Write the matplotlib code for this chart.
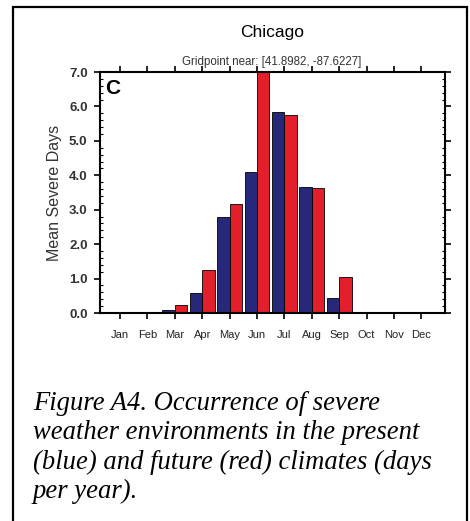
import numpy as np
import matplotlib.pyplot as plt
from matplotlib.patches import Rectangle
from matplotlib.ticker import MultipleLocator

# Data
months = ['Jan', 'Feb', 'Mar', 'Apr', 'May', 'Jun', 'Jul', 'Aug', 'Sep', 'Oct', 'Nov', 'Dec']
present = [0.0, 0.0, 0.08, 0.57, 2.78, 4.1, 5.85, 3.67, 0.45, 0.0, 0.0, 0.0]
future = [0.0, 0.0, 0.22, 1.25, 3.18, 7.0, 5.74, 3.64, 1.04, 0.0, 0.0, 0.0]
yticks = [0, 1, 2, 3, 4, 5, 6, 7]

plt.rcParams['font.family'] = ['Liberation Sans', 'DejaVu Sans']

fig = plt.figure(figsize=(4.7, 5.21), dpi=100)

# Outer frame around panel + caption
fig.patches.append(Rectangle((13 / 470, -0.02), 454 / 470, 1.02 - 7 / 521,
                             transform=fig.transFigure, fill=False,
                             edgecolor='black', linewidth=1.6))

ax = fig.add_axes([100 / 470, (521 - 313) / 521, 345 / 470, 241 / 521])

x = np.arange(len(months))
w = 0.45
ax.bar(x - w / 2, present, w, color='#27287a', edgecolor='black', linewidth=0.6)
ax.bar(x + w / 2, future, w, color='#e21f2b', edgecolor='black', linewidth=0.6)

ax.set_xlim(-0.73, 11.86)
ax.set_ylim(0, 7)
ax.set_xticks(x)
ax.set_xticklabels(months, fontsize=8, color='#222222')
ax.set_yticks(yticks)
ax.set_yticklabels([f'{v:.1f}' for v in yticks], fontsize=9.5, fontweight='bold', color='#333333')
ax.yaxis.set_minor_locator(MultipleLocator(0.2))

for s in ax.spines.values():
    s.set_linewidth(1.5)

ax.tick_params(axis='x', which='major', direction='out', length=4, width=1.2,
               top=True, bottom=True, pad=8)
ax.tick_params(axis='y', which='major', direction='out', length=4, width=1.2,
               left=True, right=True, pad=5)
ax.tick_params(axis='y', which='minor', direction='in', length=2.5, width=0.8,
               left=True, right=True)

ax.set_ylabel('Mean Severe Days', fontsize=11.5, color='#333333', labelpad=5)
ax.text(0.015, 0.97, 'C', transform=ax.transAxes, fontsize=15, fontweight='bold',
        va='top', ha='left')

fig.text(272 / 470, 1 - 33 / 521, 'Chicago', ha='center', va='center', fontsize=12.5)
fig.text(272 / 470, 1 - 62 / 521, 'Gridpoint near: [41.8982, -87.6227]',
         ha='center', va='center', fontsize=8.3, color='#333333')

caption = ('Figure A4. Occurrence of severe\n'
           'weather environments in the present\n'
           '(blue) and future (red) climates (days\n'
           'per year).')
fig.text(33 / 470, 1 - 391 / 521, caption, ha='left', va='top', fontsize=19.2,
         family=['Liberation Serif', 'DejaVu Serif'], style='italic', linespacing=1.22)

fig.savefig('out.png', dpi=100)
